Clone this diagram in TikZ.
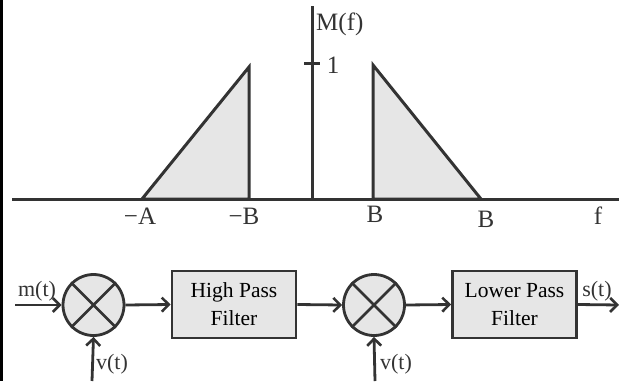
\documentclass[tikz,border=0pt]{standalone}
\usepackage{fontspec}
\setmainfont{Liberation Serif}
\usetikzlibrary{arrows.meta}
\definecolor{ink}{HTML}{333333}
\definecolor{shade}{HTML}{E6E6E6}
\tikzset{
  axisline/.style={draw=ink, line width=3pt},
  shapeline/.style={draw=ink, line width=3pt, fill=shade, line join=miter},
  sig/.style={draw=ink, line width=2.8pt, -{Straight Barb[length=7pt,width=14pt,line width=2.6pt]}},
  plain/.style={draw=ink, line width=2.8pt},
  mixer/.style={circle, draw=ink, line width=2.8pt, fill=shade, minimum size=61pt, inner sep=0pt},
  block/.style={rectangle, draw=ink, line width=2.8pt, fill=shade, minimum width=124pt, minimum height=67pt, align=center, inner sep=0pt, font=\fontsize{21.5}{28}\selectfont},
  axlabel/.style={inner sep=0pt, font=\fontsize{25}{27}\selectfont, text=ink},
  siglabel/.style={inner sep=0pt, font=\fontsize{22}{24}\selectfont, text=ink}
}
\begin{document}
\begin{tikzpicture}[x=1pt, y=-1pt]
\useasboundingbox (0,0) rectangle (619,381);
\fill[black] (0,0) rectangle (2.5,381);
% spectrum
\filldraw[shapeline] (142,199) -- (249,67) -- (249,199) -- cycle;
\filldraw[shapeline] (373,199) -- (373,65) -- (481,199) -- cycle;
\coordinate (xl) at (12,199);
\coordinate (xr) at (619,199);
\coordinate (yb) at (312,199);
\coordinate (yt) at (312,6);
\coordinate (tl) at (304,63);
\coordinate (tr) at (320,63);
\draw[axisline] (xl) -- (xr);
\draw[axisline] (yb) -- (yt);
\draw[axisline] (tl) -- (tr);
\node[axlabel, anchor=west] (mf) at (316,24) {M(f)};
\node[axlabel] (one) at (333,65) {1};
\node[axlabel] (ma) at (140,216) {−A};
\node[axlabel] (mb) at (244,216) {−B};
\node[axlabel] (pb) at (375,214) {B};
\node[axlabel] (pb2) at (486,219) {B};
\node[axlabel] (f) at (598,216) {f};
% block diagram
\node[mixer] (m1) at (93.5,305) {};
\draw[plain] (m1.45) -- (m1.225) (m1.135) -- (m1.315);
\node[mixer] (m2) at (374,305) {};
\draw[plain] (m2.45) -- (m2.225) (m2.135) -- (m2.315);
\node[block] (hpf) at (234,304.5) {High Pass\\Filter};
\node[block] (lpf) at (514.5,304.5) {Lower Pass\\Filter};
\coordinate (in) at (15,305);
\coordinate (out) at (619,305);
\coordinate (v1) at (92,381);
\coordinate (v2) at (375,381);
\draw[sig] (in) -- (m1.west);
\draw[sig] (m1.east) -- (hpf.west);
\draw[sig] (hpf.east) -- (m2.west);
\draw[sig] (m2.east) -- (lpf.west);
\draw[sig] (lpf.east) -- (out);
\draw[sig] (v1) -- (m1.south);
\draw[sig] (v2) -- (m2.south);
\node[siglabel] (mt) at (37,291) {m(t)};
\node[siglabel] (st) at (597,291) {s(t)};
\node[siglabel] (vt1) at (112,364) {v(t)};
\node[siglabel] (vt2) at (396,364) {v(t)};
\end{tikzpicture}
\end{document}
